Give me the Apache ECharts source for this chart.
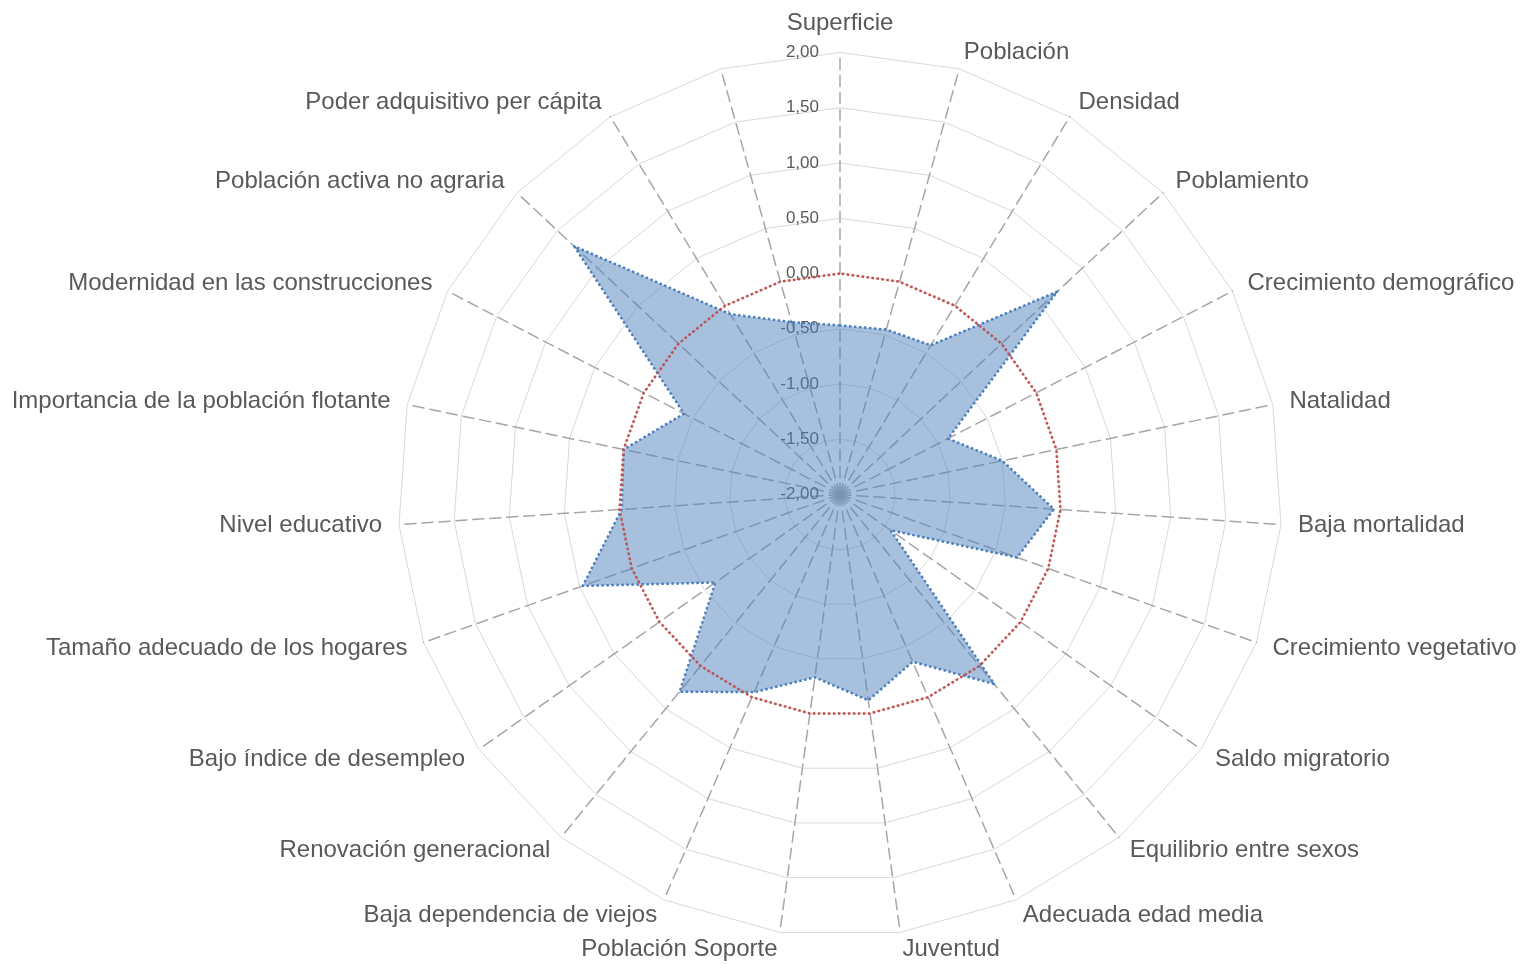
<!DOCTYPE html>
<html lang="es">
<head>
    <meta charset="UTF-8">
    <script src="https://cdn.jsdelivr.net/npm/echarts@6/dist/echarts.min.js"></script>
    <style>
        html, body { margin: 0; padding: 0; background: #fff; }
    </style>
</head>
<body>
<div id="radar_chart" style="width: 1520px;height: 965px"></div>
<script>
    // indicadores en sentido horario desde arriba (el ultimo eje no tiene nombre)
    var categories = ['Superficie', 'Población', 'Densidad', 'Poblamiento', 'Crecimiento demográfico',
        'Natalidad', 'Baja mortalidad', 'Crecimiento vegetativo', 'Saldo migratorio',
        'Equilibrio entre sexos', 'Adecuada edad media', 'Juventud', 'Población Soporte',
        'Baja dependencia de viejos', 'Renovación generacional', 'Bajo índice de desempleo',
        'Tamaño adecuado de los hogares', 'Nivel educativo', 'Importancia de la población flotante',
        'Modernidad en las construcciones', 'Población activa no agraria',
        'Poder adquisitivo per cápita', ''];
    var values = [-0.47, -0.45, -0.42, 0.69, -0.90, -0.50, -0.06, -0.30, -1.44, 0.21, -0.35, -0.12,
        -0.33, -0.05, 0.30, -0.62, 0.47, -0.02, 0.00, -0.41, 1.29, -0.09, -0.38];
    var reference = [0, 0, 0, 0, 0, 0, 0, 0, 0, 0, 0, 0, 0, 0, 0, 0, 0, 0, 0, 0, 0, 0, 0];
    var axisMin = -2, axisMax = 2, axisSplits = 8;

    // echarts dibuja los ejes en sentido antihorario: se invierte el orden
    var order = [0];
    for (var i = categories.length - 1; i > 0; i--) order.push(i);
    function reorder(arr) {
        return order.map(function (k) { return arr[k]; });
    }

    var indicators = reorder(categories).map(function (name, idx) {
        var ind = {name: name, min: axisMin, max: axisMax};
        if (idx === 0) ind.axisLabel = {show: true};
        return ind;
    });

    var mychart = echarts.init(document.getElementById('radar_chart'));
    var option = {
        backgroundColor: '#ffffff',
        animation: false,
        textStyle: {fontFamily: 'Liberation Sans, Arial, sans-serif'},
        radar: {
            center: [840, 494.5],
            radius: 442,
            startAngle: 90,
            shape: 'polygon',
            splitNumber: axisSplits,
            indicator: indicators,
            nameGap: 17,
            axisName: {
                color: '#595959',
                fontSize: 24,
                fontFamily: 'Liberation Sans, Arial, sans-serif'
            },
            axisLine: {
                lineStyle: {color: '#a6a6a6', width: 1.5, type: [11, 6]}
            },
            axisTick: {show: false},
            axisLabel: {
                show: false,
                color: '#595959',
                fontSize: 17,
                margin: 21,
                formatter: function (v) {
                    return v.toFixed(2).replace('.', ',');
                }
            },
            splitLine: {
                lineStyle: {color: '#d9d9d9', width: 1}
            },
            splitArea: {show: false}
        },
        series: [{
            type: 'radar',
            symbol: 'none',
            data: [{
                value: reorder(values),
                lineStyle: {color: '#4a7ebb', width: 2.5, type: [2.5, 2.5]},
                areaStyle: {color: '#4f81bd', opacity: 0.5}
            }]
        }, {
            type: 'radar',
            symbol: 'none',
            data: [{
                value: reorder(reference),
                lineStyle: {color: '#c0504d', width: 2.5, type: [2.5, 2.5]}
            }]
        }]
    };
    mychart.setOption(option);
</script>
</body>
</html>
